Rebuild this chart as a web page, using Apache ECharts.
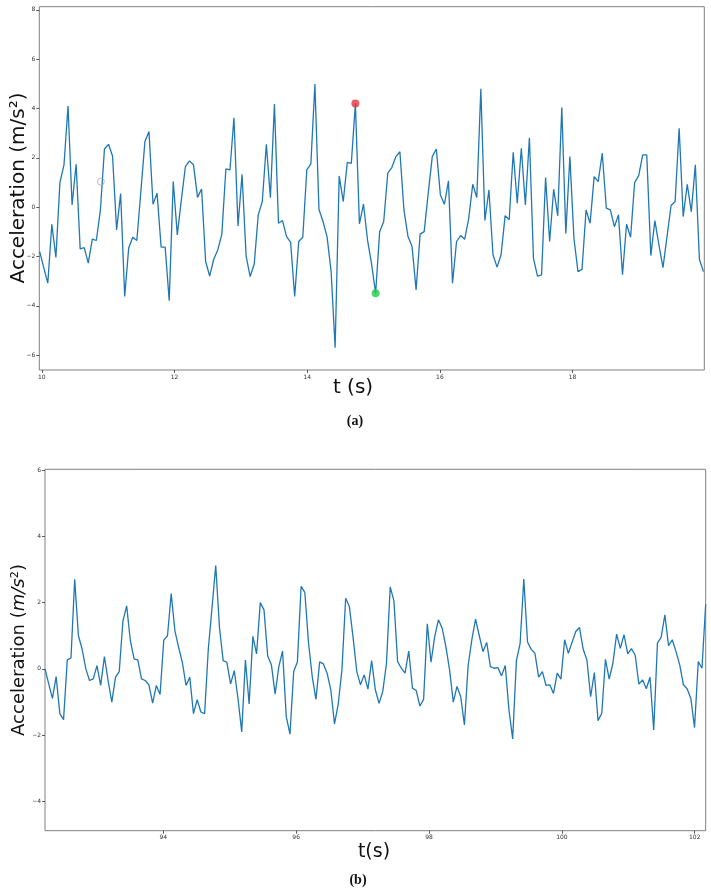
<!DOCTYPE html>
<html>
<head>
<meta charset="utf-8">
<script src="https://cdn.jsdelivr.net/npm/echarts@6/dist/echarts.min.js"></script>
<style>
html,body{margin:0;padding:0;background:#fff;}
#c{width:711px;height:893px;}
</style>
</head>
<body>
<div id="c"></div>
<script>
// ---- Panel (a): 10 s window, evenly sampled ----
const topStart = 9.968;      // time of first sample (s)
const topStep = 0.0610;      // sampling step (s)
const topValues = [
 -1.8,-2.45,-3.08,-0.69,-2.04,1.01,1.72,4.1,0.09,1.74,
 -1.69,-1.64,-2.27,-1.29,-1.35,-0.11,2.36,2.55,2.08,-0.92,
 0.55,-3.62,-1.64,-1.22,-1.35,0.65,2.66,3.07,0.12,0.57,
 -1.62,-1.62,-3.79,1.04,-1.12,0.3,1.65,1.88,1.72,0.4,
 0.74,-2.2,-2.79,-2.11,-1.73,-1.1,1.55,1.51,3.63,-0.76,
 1.33,-1.98,-2.81,-2.31,-0.31,0.23,2.55,0.39,4.18,-0.65,
 -0.54,-1.19,-1.43,-3.62,-1.39,-1.22,1.51,1.76,4.99,-0.08,
 -0.58,-1.19,-2.6,-5.7,1.27,0.23,1.82,1.78,4.21,-0.68,
 0.13,-1.33,-2.3,-3.49,-0.99,-0.58,1.38,1.61,2.05,2.25,
 -0.11,-1.19,-1.59,-3.35,-1.09,-0.99,0.57,2.05,2.36,0.5,
 0.12,1.07,-3.08,-1.39,-1.15,-1.3,-0.45,0.93,0.39,4.8,
 -0.54,0.7,-1.93,-2.43,-1.93,-0.34,-0.51,2.23,0.16,2.39,
 0.09,2.82,-2.07,-2.79,-2.74,1.2,-1.39,0.73,-0.35,4.04,
 -1.06,2.05,-1.26,-2.61,-2.52,-0.11,-0.65,1.24,1.04,2.19,
 -0.04,-0.11,-0.79,-0.31,-2.74,-0.69,-1.22,1.0,1.28,2.12,
 2.12,-1.96,-0.54,-1.53,-2.45,-1.19,0.07,0.23,3.2,-0.38,
 0.93,-0.18,1.72,-2.11,-2.61
];
const topMaxIndex = 78;   // red marker sample
const topMinIndex = 83;   // green marker sample
const topCursor = [10.89, 1.04]; // hollow grey circle
const topXTicks = [10, 12, 14, 16, 18];
const topYTicks = [-6, -4, -2, 0, 2, 4, 6, 8];

// ---- Panel (b) ----
const botStart = 92.22;
const botStep = 0.05587;
const botValues = [
 0.0,-0.45,-0.89,-0.23,-1.35,-1.53,0.27,0.33,2.7,1.0,
 0.6,0.0,-0.35,-0.3,0.1,-0.5,0.37,-0.35,-1.0,-0.25,
 -0.08,1.45,1.9,0.85,0.3,0.27,-0.3,-0.35,-0.48,-1.03,
 -0.5,-0.77,0.87,1.0,2.27,1.15,0.65,0.2,-0.5,-0.25,
 -1.35,-0.93,-1.3,-1.35,0.6,1.85,3.12,1.25,0.25,0.2,
 -0.45,-0.05,-0.9,-1.9,0.27,-1.06,0.98,0.45,2.0,1.78,
 0.39,0.12,-0.76,0.07,0.54,-1.44,-1.97,-0.08,0.21,2.49,
 2.31,0.78,-0.23,-0.92,0.21,0.15,-0.13,-0.63,-1.66,-1.06,
 -0.03,2.13,1.88,0.95,-0.08,-0.48,-0.18,-0.61,0.25,-0.63,
 -1.04,-0.68,0.17,2.47,2.06,0.22,0.02,-0.13,0.54,-0.58,
 -0.65,-1.12,-0.92,1.36,0.2,0.98,1.48,1.23,0.67,-0.03,
 -1.0,-0.53,-0.84,-1.69,0.1,0.88,1.5,1.0,0.52,0.8,
 0.07,0.02,0.04,-0.21,0.1,-1.24,-2.11,0.25,0.76,2.71,
 0.81,0.59,0.47,-0.25,-0.08,-0.5,-0.48,-0.74,-0.13,-0.31,
 0.88,0.47,0.8,1.13,1.25,0.59,0.27,-0.84,-0.11,-1.56,
 -1.34,0.29,-0.31,0.17,1.05,0.62,1.03,0.45,0.61,0.42,
 -0.46,-0.33,-0.6,-0.25,-1.84,0.78,0.95,1.63,0.7,0.88,
 0.52,0.12,-0.48,-0.6,-0.89,-1.77,0.22,0.02,1.95
];
const botXTicks = [94, 96, 98, 100, 102];
const botYTicks = [-4, -2, 0, 2, 4, 6];

// build [t, v] pairs
const topData = topValues.map((v, i) => [topStart + i * topStep, v]);
const botData = botValues.map((v, i) => [botStart + i * botStep, v]);

const fmt = v => (v < 0 ? '\u2212' + Math.abs(v) : String(v));
const tickLabel = {fontSize: 6, color: '#333', fontFamily: 'DejaVu Sans', formatter: fmt};

function axis(gi, min, max, ticks, pos) {
  return {
    type: 'value', gridIndex: gi, min: min, max: max, position: pos,
    axisLine: {show: false, onZero: false},
    splitLine: {show: false},
    axisTick: {show: true, length: 3, inside: false, lineStyle: {color: '#333', width: 0.8}, customValues: ticks},
    axisLabel: Object.assign({margin: 4, customValues: ticks}, tickLabel)
  };
}

const chart = echarts.init(document.getElementById('c'), null, {renderer: 'canvas'});
const lineColor = '#1f77b4';
chart.setOption({
  animation: false,
  backgroundColor: '#fff',
  grid: [
    {left: 39.3, top: 6.7, right: 6.7, bottom: 523, show: true, borderColor: '#808080', borderWidth: 1, backgroundColor: 'transparent'},
    {left: 45, top: 469.3, right: 5.3, bottom: 62.3, show: true, borderColor: '#808080', borderWidth: 1, backgroundColor: 'transparent'}
  ],
  xAxis: [
    axis(0, 9.962, 19.985, topXTicks, 'bottom'),
    axis(1, 92.22, 102.165, botXTicks, 'bottom')
  ],
  yAxis: [
    axis(0, -6.6, 8.13, topYTicks, 'left'),
    axis(1, -4.88, 6.02, botYTicks, 'left')
  ],
  series: [
    {type: 'line', xAxisIndex: 0, yAxisIndex: 0, data: topData, showSymbol: false,
     lineStyle: {color: lineColor, width: 1.3}, z: 2},
    {type: 'scatter', xAxisIndex: 0, yAxisIndex: 0, data: [topCursor], symbol: 'circle', symbolSize: 7,
     itemStyle: {color: 'rgba(0,0,0,0)', borderColor: '#a8a8a8', borderWidth: 1}, z: 3},
    {type: 'scatter', xAxisIndex: 0, yAxisIndex: 0, data: [topData[topMaxIndex]], symbolSize: 8,
     itemStyle: {color: '#e3343c'}, z: 4},
    {type: 'scatter', xAxisIndex: 0, yAxisIndex: 0, data: [topData[topMinIndex]], symbolSize: 8,
     itemStyle: {color: '#1fcc4a'}, z: 4},
    {type: 'line', xAxisIndex: 1, yAxisIndex: 1, data: botData, showSymbol: false,
     lineStyle: {color: lineColor, width: 1.3}, z: 2}
  ],
  graphic: [
    {type: 'text', x: 18.5, y: 188, rotation: Math.PI / 2,
     style: {text: 'Acceleration (m/s\u00B2)', font: '20px "DejaVu Sans"', fill: '#111', align: 'center', verticalAlign: 'middle'}},
    {type: 'text', x: 353, y: 388,
     style: {text: 't (s)', font: '20px "DejaVu Sans"', fill: '#111', align: 'center', verticalAlign: 'middle'}},
    {type: 'text', x: 355, y: 421,
     style: {text: '(a)', font: 'bold 14px "Liberation Serif"', fill: '#111', align: 'center', verticalAlign: 'middle'}},
    {type: 'text', x: 19.5, y: 650, rotation: Math.PI / 2,
     style: {text: '{n|Acceleration (}{i|m/s}{n|\u00B2)}', align: 'center', verticalAlign: 'middle', fill: '#111',
       rich: {n: {font: '18px "DejaVu Sans"', fill: '#111'}, i: {font: 'italic 18px "DejaVu Sans"', fill: '#111'}}}},
    {type: 'text', x: 374, y: 852,
     style: {text: 't(s)', font: '19px "DejaVu Sans"', fill: '#111', align: 'center', verticalAlign: 'middle'}},
    {type: 'text', x: 358, y: 880,
     style: {text: '(b)', font: 'bold 14px "Liberation Serif"', fill: '#111', align: 'center', verticalAlign: 'middle'}}
  ]
});
</script>
</body>
</html>
